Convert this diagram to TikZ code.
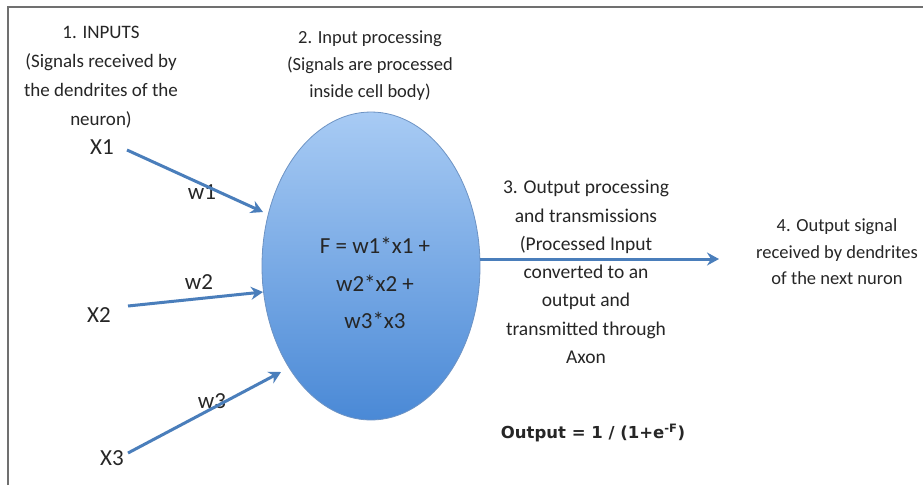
\documentclass[tikz,border=0pt]{standalone}
\usepackage{fontspec}
\setmainfont{Carlito}
\newfontfamily\boldfam{DejaVu Sans}
\usetikzlibrary{arrows.meta,calc,shapes.geometric}
\definecolor{textc}{HTML}{262626}
\definecolor{arrowc}{HTML}{4A7EBB}
\definecolor{celltop}{HTML}{A8CBF4}
\definecolor{cellbot}{HTML}{4A89D6}
\definecolor{cellline}{HTML}{6D93C4}
\definecolor{framec}{HTML}{707070}
\begin{document}
\begin{tikzpicture}[x=1pt,y=-1pt,
  lbl/.style={align=center, text=textc, inner sep=0pt},
  xlbl/.style={text=textc, font=\fontsize{23}{23}\selectfont, inner sep=0pt},
  conn/.style={draw=arrowc, line width=3pt, -{Stealth[length=12pt,width=13pt,inset=4pt]}}]
\useasboundingbox (0,0) rectangle (923,485);
\fill[white] (0,0) rectangle (923,485);
\draw[framec, line width=1.5pt] (8,485) -- (8,7) -- (923,7);

% cell body
\node (cell) [ellipse, minimum width=218pt, minimum height=308pt, inner sep=0pt,
  top color=celltop, bottom color=cellbot, draw=cellline, line width=0.8pt] at (371,266) {};
\node (formula) [lbl, font=\fontsize{23}{37.5}\selectfont] at (375,283) {F = w1*x1 +\\ w2*x2 +\\ w3*x3};

% text blocks
\node (inputs) [lbl, font=\fontsize{19}{29}\selectfont] at (101,77)
  {1. INPUTS\\ (Signals received by\\ the dendrites of the\\ neuron)};
\node (proc) [lbl, font=\fontsize{18.5}{27}\selectfont] at (370,66)
  {2. Input processing\\ (Signals are processed\\ inside cell body)};
\node (outproc) [lbl, font=\fontsize{19.5}{28.3}\selectfont] at (586,272)
  {3. Output processing\\ and transmissions\\ (Processed Input\\ converted to an\\ output and\\ transmitted through\\ Axon};
\node (outsig) [lbl, font=\fontsize{18.5}{26.5}\selectfont] at (837,252)
  {4. Output signal\\ received by dendrites\\ of the next nuron};
\node (outf) [lbl, font=\boldfam\bfseries\fontsize{16.5}{20}\selectfont] at (593,433)
  {Output = 1 / (1+e\textsuperscript{-F})};

% inputs
\node (X1) [xlbl] at (102,147) {X1};
\node (X2) [xlbl] at (99,315) {X2};
\node (X3) [xlbl] at (112,458) {X3};
\node (w1) [xlbl] at (202,192) {w1};
\node (w2) [xlbl] at (199,282) {w2};
\node (w3) [xlbl] at (212,401) {w3};

\coordinate (s1) at (127,150);
\coordinate (s2) at (128,306);
\coordinate (s3) at (128,453);
\coordinate (t1) at (263,212);
\coordinate (t2) at (263,292);
\coordinate (t3) at (281,372);
\coordinate (o4) at (719,259);

\draw[conn] (s1) -- (t1);
\draw[conn] (s2) -- (t2);
\draw[conn] (s3) -- (t3);
\draw[conn] (cell.east |- o4) -- (o4);
\end{tikzpicture}
\end{document}
